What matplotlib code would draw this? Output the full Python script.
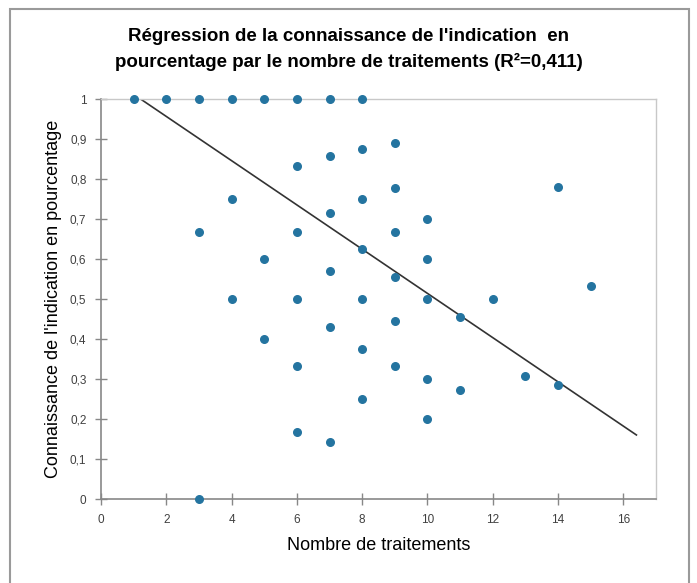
import matplotlib
matplotlib.use('Agg')
import matplotlib.pyplot as plt
from matplotlib.patches import Rectangle
import numpy as np

plt.rcParams['font.family'] = ['Liberation Sans', 'DejaVu Sans']

# nombre de traitements / connaissance
traitements = [1, 2, 3, 4, 5, 6, 7, 8,
               9, 8, 7, 6, 9, 14, 4, 8, 7, 10,
               3, 6, 9, 8, 5, 10, 7, 9, 15,
               4, 6, 8, 10, 12, 11, 9, 7, 5, 8,
               6, 9, 13, 10, 14, 11, 8, 10, 6, 7, 3]
connaissance = [1, 1, 1, 1, 1, 1, 1, 1,
                0.889, 0.875, 0.857, 0.833, 0.778, 0.78, 0.75, 0.75, 0.714, 0.70,
                0.667, 0.667, 0.667, 0.625, 0.6, 0.6, 0.571, 0.556, 0.533,
                0.5, 0.5, 0.5, 0.5, 0.5, 0.455, 0.444, 0.429, 0.4, 0.375,
                0.333, 0.333, 0.308, 0.3, 0.286, 0.273, 0.25, 0.2, 0.167, 0.143, 0.0]

# droite de régression (pente, ordonnée) et étendue
pente = -0.0553
ordonnee = 1.067
droite_x = [1, 16.4]

xticks = [0, 2, 4, 6, 8, 10, 12, 14, 16]
yticks = [0, 0.1, 0.2, 0.3, 0.4, 0.5, 0.6, 0.7, 0.8, 0.9, 1]
ytick_labels = ['0', '0,1', '0,2', '0,3', '0,4', '0,5', '0,6', '0,7', '0,8', '0,9', '1']

fig = plt.figure(figsize=(6.97, 5.83), dpi=100)
ax = fig.add_axes([101/697, 84/583, 555/697, 400/583])

# cadre du graphique
fig.patches.append(Rectangle((10/697, -0.05), 679/697, 1.05 - 9/583,
                             transform=fig.transFigure, fill=False,
                             edgecolor='#9a9a9a', linewidth=1.5))

dx = np.array(droite_x)
ax.plot(dx, pente * dx + ordonnee, color='#333333', linewidth=1.2, zorder=2)
ax.scatter(traitements, connaissance, s=30, color='#2474a0', zorder=3, clip_on=False)

ax.set_xlim(0, 17)
ax.set_ylim(0, 1)
ax.set_xticks(xticks)
ax.set_yticks(yticks)
ax.set_yticklabels(ytick_labels)
ax.tick_params(direction='inout', length=9, width=1, color='#888888',
               labelsize=8.5, labelcolor='#404040')
ax.tick_params(axis='x', pad=6)
ax.tick_params(axis='y', pad=6)

for s in ['left', 'bottom']:
    ax.spines[s].set_color('#888888')
    ax.spines[s].set_linewidth(1.2)
for s in ['top', 'right']:
    ax.spines[s].set_color('#c8c8c8')
    ax.spines[s].set_linewidth(1)

ax.set_xlabel('Nombre de traitements', fontsize=13, labelpad=8)
ax.set_ylabel("Connaissance de l'indication en pourcentage", fontsize=13, labelpad=6)

fig.text(0.5, 0.915, "Régression de la connaissance de l'indication  en\n"
         "pourcentage par le nombre de traitements (R²=0,411)",
         ha='center', va='center', fontsize=13.5, fontweight='bold', linespacing=1.55)

fig.savefig('out.png', dpi=100)
